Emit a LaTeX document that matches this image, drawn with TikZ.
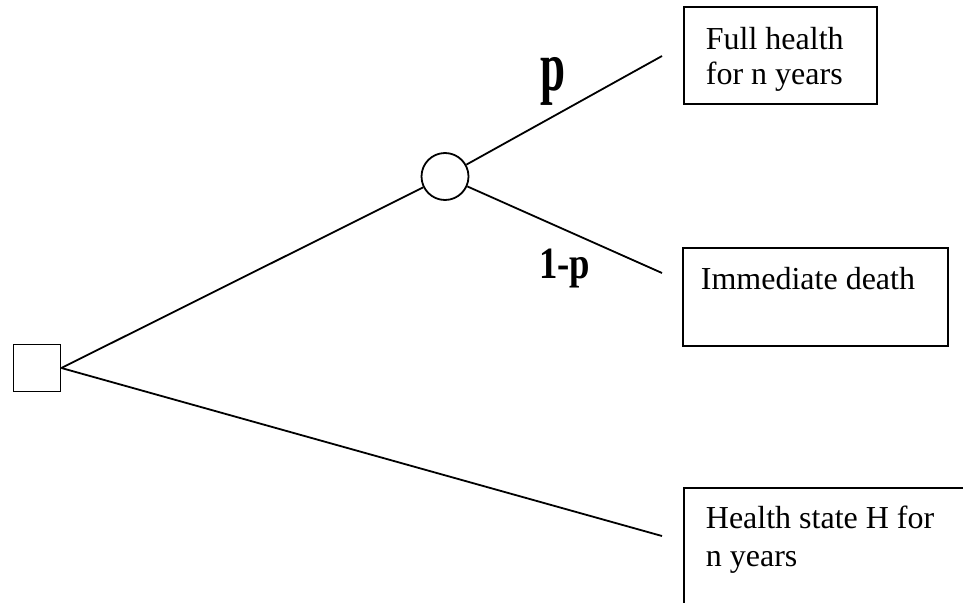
\documentclass[tikz,border=0pt]{standalone}
\usepackage{fontspec}
\setmainfont{Liberation Serif}
\begin{document}
\begin{tikzpicture}[x=1pt,y=-1pt,
  line width=1.8pt,
  outbox/.style={draw,rectangle,inner sep=0pt},
  boxtext/.style={anchor=base west,inner sep=0pt,align=left},
  problabel/.style={inner sep=0pt}]
\useasboundingbox (0,0) rectangle (963,602);
\begin{scope}
\clip (0,0) rectangle (963,602);
% decision and chance nodes
\node[draw,rectangle,minimum size=47pt,inner sep=0pt] (sq) at (37,368) {};
\node[draw,circle,minimum size=47pt,inner sep=0pt] (ci) at (445,176.5) {};
% outcome boxes
\node[outbox,minimum width=193pt,minimum height=97pt] (b1) at (780.5,55.5) {};
\node[outbox,minimum width=265pt,minimum height=98pt] (b2) at (815.5,297) {};
\node[outbox,minimum width=306pt,minimum height=162pt] (b3) at (837,569) {};
% free ends of connectors
\coordinate (e1) at (662,56);
\coordinate (e2) at (662,273);
\coordinate (e3) at (662,536);
% connectors
\draw (sq.east) -- (ci);
\draw (ci) -- (e1);
\draw (ci) -- (e2);
\draw (sq.east) -- (e3);
% texts (base anchor = baseline of the last line)
\node[boxtext,font=\fontsize{32}{35}\selectfont] (t1) at (705,84) {Full health\\for n years};
\node[boxtext,font=\fontsize{32}{35}\selectfont] (t2) at (700,289) {Immediate death};
\node[boxtext,font=\fontsize{32}{38}\selectfont] (t3) at (705,566) {Health state H for\\n years};
% probability labels
\node[problabel] (lp) at (552.5,81) {\resizebox*{25pt}{48pt}{\bfseries p}};
\node[problabel] (lq) at (564.5,268.5) {\resizebox*{51pt}{39pt}{\bfseries 1-p}};
\end{scope}
\end{tikzpicture}
\end{document}
